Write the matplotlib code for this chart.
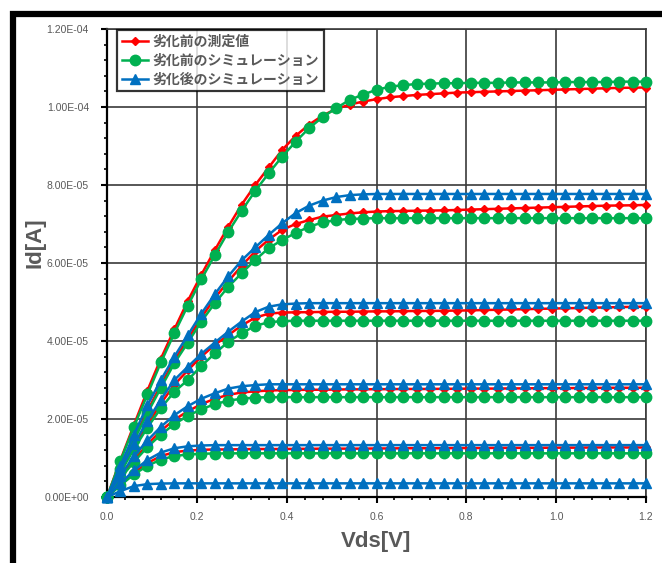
import matplotlib
matplotlib.use('Agg')
import matplotlib.pyplot as plt
from matplotlib.patches import Rectangle
from matplotlib.ticker import MultipleLocator, FuncFormatter

# Vds sweep [V]
vds = [0.00, 0.03, 0.06, 0.09, 0.12, 0.15, 0.18, 0.21, 0.24, 0.27,
       0.30, 0.33, 0.36, 0.39, 0.42, 0.45, 0.48, 0.51, 0.54, 0.57,
       0.60, 0.63, 0.66, 0.69, 0.72, 0.75, 0.78, 0.81, 0.84, 0.87,
       0.90, 0.93, 0.96, 0.99, 1.02, 1.05, 1.08, 1.11, 1.14, 1.17, 1.20]

# Id values in uA
meas_before = [
    [0, 3.2, 6.2, 8.7, 10.5, 11.5, 11.9, 12.1, 12.2, 12.2,
     12.25, 12.3, 12.3, 12.3, 12.35, 12.35, 12.4, 12.4, 12.4, 12.4,
     12.45, 12.45, 12.5, 12.5, 12.5, 12.5, 12.55, 12.55, 12.55, 12.6,
     12.6, 12.6, 12.6, 12.65, 12.65, 12.65, 12.7, 12.7, 12.7, 12.7, 12.7],
    [0, 5.0, 9.5, 13.5, 17.0, 19.8, 22.0, 23.8, 25.2, 26.2,
     26.8, 27.1, 27.3, 27.4, 27.45, 27.5, 27.5, 27.55, 27.6, 27.6,
     27.65, 27.65, 27.7, 27.7, 27.7, 27.75, 27.75, 27.8, 27.8, 27.8,
     27.85, 27.85, 27.9, 27.9, 27.9, 27.95, 27.95, 28.0, 28.0, 28.0, 28.0],
    [0, 6.5, 12.8, 18.5, 24.0, 28.8, 32.5, 36.0, 39.0, 41.5,
     44.0, 46.0, 47.0, 47.3, 47.35, 47.4, 47.45, 47.5, 47.5, 47.55,
     47.6, 47.6, 47.65, 47.7, 47.7, 47.75, 47.8, 47.85, 47.95, 48.0,
     48.1, 48.15, 48.25, 48.3, 48.4, 48.45, 48.55, 48.6, 48.7, 48.75, 48.8],
    [0, 7.5, 15.0, 22.0, 28.8, 35.0, 40.5, 46.0, 51.0, 55.3,
     59.3, 63.0, 66.0, 68.5, 70.0, 71.0, 71.9, 72.3, 72.7, 73.0,
     73.2, 73.3, 73.35, 73.4, 73.45, 73.5, 73.6, 73.7, 73.8, 73.9,
     74.0, 74.1, 74.2, 74.3, 74.4, 74.5, 74.6, 74.7, 74.75, 74.8, 74.9],
    [0, 9.5, 18.5, 27.3, 35.5, 43.0, 50.3, 57.0, 63.3, 69.3,
     75.0, 80.0, 84.5, 89.0, 92.6, 95.5, 97.8, 99.5, 100.6, 101.4,
     102.0, 102.5, 102.8, 103.1, 103.3, 103.5, 103.7, 103.8, 103.9, 104.0,
     104.1, 104.2, 104.3, 104.4, 104.5, 104.6, 104.7, 104.8, 104.9, 104.95, 105.0],
]

sim_before = [
    [0, 3.0, 5.8, 8.0, 9.6, 10.5, 10.9, 11.1, 11.15, 11.2,
     11.2, 11.2, 11.2, 11.2, 11.2, 11.2, 11.2, 11.2, 11.2, 11.2,
     11.2, 11.2, 11.2, 11.2, 11.2, 11.2, 11.2, 11.2, 11.2, 11.2,
     11.2, 11.2, 11.2, 11.2, 11.2, 11.2, 11.2, 11.2, 11.2, 11.2, 11.2],
    [0, 4.8, 9.0, 12.8, 16.0, 18.7, 20.8, 22.5, 23.8, 24.7,
     25.2, 25.5, 25.6, 25.6, 25.6, 25.6, 25.6, 25.6, 25.6, 25.6,
     25.6, 25.6, 25.6, 25.6, 25.6, 25.6, 25.6, 25.6, 25.6, 25.6,
     25.6, 25.6, 25.6, 25.6, 25.6, 25.6, 25.6, 25.6, 25.6, 25.6, 25.6],
    [0, 6.3, 12.3, 17.8, 22.8, 27.0, 30.0, 33.6, 36.8, 39.8,
     42.0, 43.9, 44.8, 45.1, 45.2, 45.2, 45.2, 45.2, 45.2, 45.2,
     45.2, 45.2, 45.2, 45.2, 45.2, 45.2, 45.2, 45.2, 45.2, 45.2,
     45.2, 45.2, 45.2, 45.2, 45.2, 45.2, 45.2, 45.2, 45.2, 45.2, 45.2],
    [0, 7.3, 14.5, 21.5, 28.0, 34.3, 39.6, 45.0, 49.7, 53.9,
     57.4, 60.8, 63.8, 65.9, 67.7, 69.3, 70.4, 71.0, 71.3, 71.4,
     71.5, 71.5, 71.5, 71.5, 71.5, 71.5, 71.5, 71.5, 71.5, 71.5,
     71.5, 71.5, 71.5, 71.5, 71.5, 71.5, 71.5, 71.5, 71.5, 71.5, 71.5],
    [0, 9.3, 18.0, 26.3, 34.5, 42.0, 49.1, 55.8, 62.0, 68.0,
     73.4, 78.5, 83.0, 87.3, 91.1, 94.6, 97.4, 99.7, 101.8, 103.2,
     104.4, 105.2, 105.6, 105.9, 106.0, 106.1, 106.1, 106.2, 106.2, 106.2,
     106.3, 106.3, 106.3, 106.3, 106.4, 106.4, 106.4, 106.4, 106.5, 106.5, 106.5],
]

sim_after = [
    [0, 1.5, 2.8, 3.3, 3.45, 3.5, 3.5, 3.5, 3.5, 3.5,
     3.5, 3.5, 3.5, 3.5, 3.5, 3.5, 3.5, 3.5, 3.5, 3.5,
     3.5, 3.5, 3.5, 3.5, 3.5, 3.5, 3.5, 3.5, 3.5, 3.5,
     3.5, 3.5, 3.5, 3.5, 3.5, 3.5, 3.5, 3.5, 3.5, 3.5, 3.5],
    [0, 3.5, 6.8, 9.5, 11.4, 12.5, 13.0, 13.2, 13.3, 13.3,
     13.3, 13.3, 13.3, 13.3, 13.3, 13.3, 13.3, 13.3, 13.3, 13.3,
     13.3, 13.3, 13.3, 13.3, 13.3, 13.3, 13.3, 13.3, 13.3, 13.3,
     13.3, 13.3, 13.3, 13.3, 13.3, 13.3, 13.3, 13.3, 13.3, 13.3, 13.3],
    [0, 5.5, 10.5, 14.5, 18.0, 21.0, 23.3, 25.2, 26.6, 27.8,
     28.4, 28.7, 28.9, 28.9, 28.9, 28.9, 28.9, 28.9, 28.9, 28.9,
     28.9, 28.9, 28.9, 28.9, 28.9, 28.9, 28.9, 28.9, 28.9, 28.9,
     28.9, 28.9, 28.9, 28.9, 28.9, 28.9, 28.9, 28.9, 28.9, 28.9, 28.9],
    [0, 7.0, 13.5, 19.5, 25.0, 30.0, 33.4, 36.7, 39.6, 42.4,
     45.0, 47.4, 48.8, 49.4, 49.6, 49.7, 49.7, 49.7, 49.7, 49.7,
     49.7, 49.7, 49.7, 49.7, 49.7, 49.7, 49.7, 49.7, 49.7, 49.7,
     49.7, 49.7, 49.7, 49.7, 49.7, 49.7, 49.7, 49.7, 49.7, 49.7, 49.7],
    [0, 8.0, 16.0, 23.5, 30.0, 36.0, 41.5, 47.0, 52.0, 56.6,
     60.7, 64.0, 67.2, 70.2, 72.8, 74.7, 76.0, 76.9, 77.4, 77.6,
     77.7, 77.7, 77.7, 77.7, 77.7, 77.7, 77.7, 77.7, 77.7, 77.7,
     77.7, 77.7, 77.7, 77.7, 77.7, 77.7, 77.7, 77.7, 77.7, 77.7, 77.7],
]

labels = ['劣化前の測定値', '劣化前のシミュレーション', '劣化後のシミュレーション']

gray = '#595959'
plt.rcParams['font.family'] = ['Liberation Sans Narrow', 'Liberation Sans', 'DejaVu Sans']

fig = plt.figure(figsize=(6.62, 5.63), dpi=100)
ax = fig.add_axes([107 / 662, 1 - 497 / 563, 539 / 662, 468 / 563])

styles = [
    (meas_before, '#FF0000', 'D', 4.5, labels[0]),
    (sim_before, '#00B050', 'o', 7.5, labels[1]),
    (sim_after, '#0070C0', '^', 7.0, labels[2]),
]
for series, color, marker, ms, label in styles:
    for i, ys in enumerate(series):
        ax.plot(vds, [v * 1e-6 for v in ys], color=color, marker=marker,
                markersize=ms, linewidth=1.8, clip_on=False, zorder=3,
                label=label if i == 0 else None)

ax.set_xlim(0, 1.2)
ax.set_ylim(0, 1.2e-4)
ax.xaxis.set_major_locator(MultipleLocator(0.2))
ax.xaxis.set_minor_locator(MultipleLocator(0.04))
ax.yaxis.set_major_locator(MultipleLocator(2e-5))
ax.yaxis.set_minor_locator(MultipleLocator(4e-6))
ax.xaxis.set_major_formatter(FuncFormatter(lambda v, p: f'{v:.1f}'))
ax.yaxis.set_major_formatter(FuncFormatter(lambda v, p: f'{v:.2E}'))

ax.grid(True, which='major', color='#3a3a3a', linewidth=1.2, zorder=1)
ax.set_axisbelow(True)
for side in ['left', 'bottom']:
    ax.spines[side].set_color('black')
    ax.spines[side].set_linewidth(1.6)
for side in ['top', 'right']:
    ax.spines[side].set_color('#3a3a3a')
    ax.spines[side].set_linewidth(1.2)

ax.tick_params(which='major', direction='out', length=4, width=1.5,
               color='black', labelcolor=gray, labelsize=7.5)
ax.tick_params(which='minor', direction='out', length=2.5, width=1.2, color='black')
ax.tick_params(axis='y', which='major', pad=9)
ax.tick_params(axis='x', which='major', pad=7)
ax.tick_params(top=False, right=False, which='both')

# axis titles
fig.text(376 / 662, 1 - 541 / 563, 'Vds[V]', fontsize=16, fontweight='bold',
         color=gray, ha='center', va='center')
fig.text(35 / 662, 1 - 243 / 563, 'Id[A]', fontsize=16, fontweight='bold',
         color=gray, ha='center', va='center', rotation=90)

leg = ax.legend(loc='upper left', bbox_to_anchor=(117 / 662, 1 - 30 / 563),
                bbox_transform=fig.transFigure, frameon=True, fancybox=False,
                prop={'family': ['Noto Sans CJK JP', 'DejaVu Sans'], 'size': 10,
                      'weight': 'bold'},
                handlelength=1.9, handletextpad=0.3, labelspacing=0.35,
                borderpad=0.35, borderaxespad=0)
leg.get_frame().set_edgecolor('black')
leg.get_frame().set_linewidth(1.6)
leg.set_zorder(5)
for t in leg.get_texts():
    t.set_color(gray)

# thick outer frame of the chart area
fig.add_artist(Rectangle((13 / 662, -0.2), 1.2, 1.2 - 14 / 563,
                         transform=fig.transFigure, fill=False,
                         edgecolor='black', linewidth=4.5))

fig.savefig('out.png', dpi=100)
